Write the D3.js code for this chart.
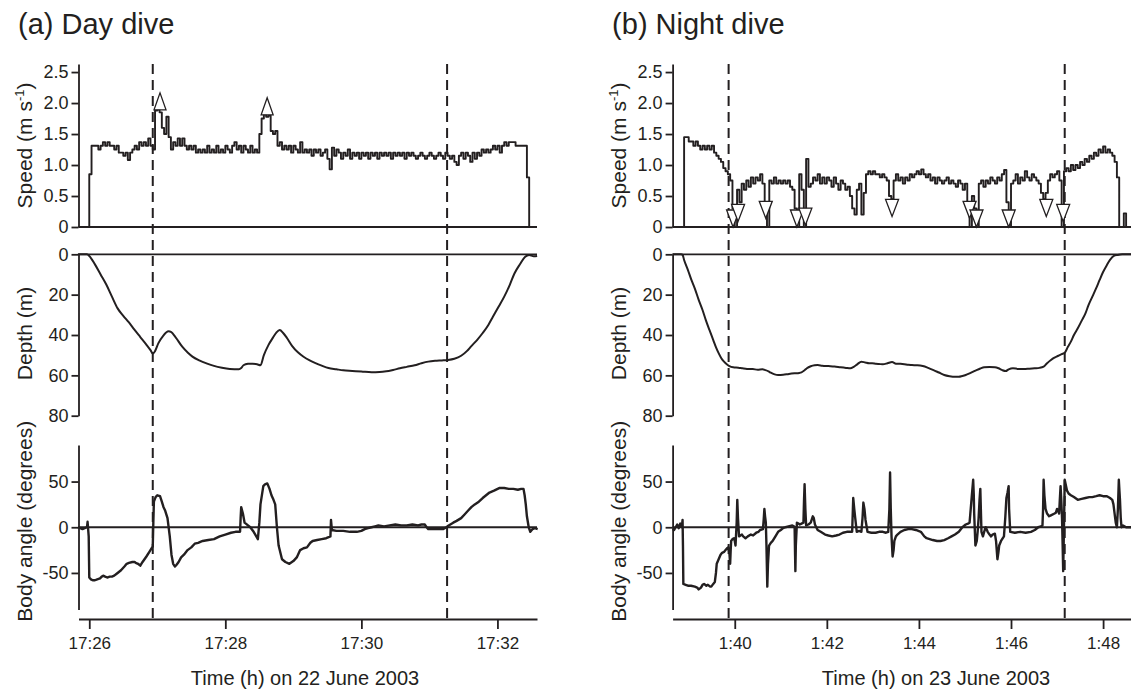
<!DOCTYPE html>
<html>
<head>
<meta charset="utf-8">
<script src="https://cdn.jsdelivr.net/npm/d3@7"></script>
<style>
  body { margin: 0; background: #fff; }
  text { font-family: "Liberation Sans", Arial, Helvetica, sans-serif; fill: #231f20; }
</style>
</head>
<body>
<svg id="chart" width="1131" height="692"></svg>
<script>
// ---- data (seconds are counted from 17:26:00 for the day dive, 1:40:00 for the night dive)
const titles = ["(a) Day dive", "(b) Night dive"];
const xLabels = ["Time (h) on 22 June 2003", "Time (h) on 23 June 2003"];
const tickLabelsA = ["17:26", "17:28", "17:30", "17:32"];
const tickLabelsB = ["1:40", "1:42", "1:44", "1:46", "1:48"];
const speedTicks = [0, 0.5, 1.0, 1.5, 2.0, 2.5];
const depthTicks = [0, 20, 40, 60, 80];
const angleTicks = [-50, 0, 50];
const spanA = [-9.5, 394.9];
const spanB = [-81, 516.5];
const dashedA = [56, 315.6];
const dashedB = [-8, 430];

// speed, one sample every 2 s from t = -2 (day) / every 3 s from t = -72 (night)
const speedAStart = -2, speedAStep = 2;
const speedA = [
  0, 0.85, 1.31, 1.31, 1.31, 1.25, 1.31, 1.37, 1.31, 1.37,
  1.31, 1.31, 1.25, 1.31, 1.2, 1.2, 1.15, 1.2, 1.08, 1.2,
  1.25, 1.31, 1.25, 1.37, 1.31, 1.37, 1.31, 1.43, 1.31, 1.25,
  1.88, 1.9, 1.85, 1.6, 1.5, 1.78, 1.45, 1.25, 1.37, 1.31,
  1.43, 1.31, 1.43, 1.31, 1.25, 1.31, 1.25, 1.31, 1.2, 1.25,
  1.2, 1.25, 1.2, 1.31, 1.2, 1.25, 1.2, 1.31, 1.2, 1.25,
  1.2, 1.31, 1.25, 1.2, 1.31, 1.37, 1.25, 1.31, 1.2, 1.31,
  1.25, 1.2, 1.31, 1.2, 1.25, 1.2, 1.5, 1.75, 1.82, 1.78,
  1.8, 1.55, 1.5, 1.55, 1.31, 1.37, 1.25, 1.31, 1.25, 1.31,
  1.2, 1.31, 1.25, 1.2, 1.37, 1.2, 1.25, 1.2, 1.25, 1.15,
  1.25, 1.2, 1.25, 1.15, 1.2, 1.25, 1.1, 0.93, 1.28, 1.15,
  1.25, 1.2, 1.1, 1.2, 1.15, 1.25, 1.1, 1.2, 1.15, 1.2,
  1.1, 1.2, 1.15, 1.2, 1.1, 1.2, 1.15, 1.2, 1.1, 1.2,
  1.15, 1.2, 1.15, 1.2, 1.1, 1.2, 1.15, 1.2, 1.15, 1.2,
  1.1, 1.2, 1.15, 1.2, 1.15, 1.1, 1.15, 1.2, 1.15, 1.1,
  1.15, 1.2, 1.15, 1.1, 1.15, 1.2, 1.15, 1.1, 1.2, 1.15,
  1.1, 1.15, 1.05, 1.0, 1.15, 1.2, 1.1, 1.2, 1.15, 1.05,
  1.2, 1.1, 1.2, 1.15, 1.25, 1.2, 1.25, 1.2, 1.25, 1.31,
  1.25, 1.31, 1.2, 1.31, 1.37, 1.31, 1.37, 1.37, 1.37, 1.31,
  1.31, 1.31, 1.31, 1.31, 0.8, 0
];
const speedBStart = -72, speedBStep = 3;
const speedB = [
  0, 0, 1.45, 1.45, 1.38, 1.38, 1.31, 1.38, 1.31, 1.25,
  1.31, 1.25, 1.31, 1.25, 1.31, 1.2, 1.15, 1.1, 1.05, 0.95,
  0.9, 0.85, 0.75, 0.3, 0, 0.6, 0.4, 0.7, 0.6, 0.75,
  0.65, 0.8, 0.7, 0.8, 0.75, 0.85, 0.7, 0.4, 0, 0.75,
  0.7, 0.8, 0.7, 0.75, 0.7, 0.75, 0.7, 0.75, 0.65, 0.6,
  0.3, 0, 0.85, 0.6, 0, 1.1, 0.65, 0.7, 0.8, 0.75,
  0.85, 0.7, 0.8, 0.7, 0.8, 0.75, 0.65, 0.8, 0.7, 0.6,
  0.75, 0.7, 0.6, 0.65, 0.5, 0.3, 0.2, 0.6, 0.7, 0.2,
  0.55, 0.85, 0.9, 0.85, 0.9, 0.85, 0.85, 0.8, 0.85, 0.8,
  0.75, 0.5, 0.45, 0.75, 0.85, 0.75, 0.8, 0.7, 0.8, 0.75,
  0.85, 0.8, 0.85, 0.9, 0.85, 0.93, 0.85, 0.8, 0.85, 0.75,
  0.8, 0.7, 0.8, 0.75, 0.7, 0.75, 0.8, 0.7, 0.75, 0.7,
  0.65, 0.75, 0.7, 0.6, 0.7, 0.35, 0, 0.5, 0.3, 0,
  0.7, 0.75, 0.65, 0.75, 0.7, 0.8, 0.75, 0.7, 0.8, 0.75,
  0.85, 0.92, 0.4, 0, 0.7, 0.75, 0.85, 0.7, 0.8, 0.75,
  0.9, 0.8, 0.75, 0.85, 0.8, 0.75, 0.7, 0.55, 0.45, 0.55,
  0.75, 0.85, 0.8, 0.85, 0.9, 0.75, 0, 0.9, 0.95, 0.9,
  1.0, 0.92, 1.0, 0.95, 1.05, 1.0, 1.1, 1.05, 1.15, 1.1,
  1.2, 1.15, 1.25, 1.2, 1.3, 1.2, 1.25, 1.2, 1.15, 1.05,
  0.8, 0, 0, 0.22, 0
];

// arrows: [time s, speed] (day: base of up arrow, night: tip of down arrow)
const arrowsA = [[62.4, 1.89], [156.9, 1.81]];
const arrowsB = [[-2.2, 0], [4.3, 0.09], [40.4, 0.14], [81, 0], [92, 0.03], [205, 0.17],
  [306, 0.14], [315, 0], [357, 0], [406, 0.17], [428, 0.09]];

// depth (m): [time s, depth]
const depthA = [[-10,0],[-2,0],[0,0.8],[5,5],[10,10],[15,15],[20,21],[25,26.8],[30,30.5],[35,33.8],
  [40,37.5],[45,41],[50,44.5],[54,47.5],[56,49.2],[58,48],[61,44],[65,40.5],[70,38.2],[72,38.5],
  [76,41],[82,45.8],[87,48.8],[91,50.7],[97,52.6],[104,54.2],[110,55.3],[117,56.2],[124,56.8],[132,57],
  [134,56.4],[136,55],[140,54.3],[144,54.2],[148,54.5],[151,55],[154,50],[158,45],[162,41.3],[165,38.8],
  [168,37.5],[171,39],[174,41.2],[179,45.5],[184,48.6],[189,50.8],[194,52.5],[199,53.8],[205,55.2],[211,56.4],
  [218,57],[224,57.5],[232,57.8],[240,58.1],[249,58.5],[256,58.4],[262,58],[268,57.3],[274,56.5],[280,55.8],
  [287,55],[293,54],[299,53.2],[305,52.8],[311,52.6],[316,52.4],[322,51.8],[328,50.3],[333,48],[337,45.5],
  [342,42.5],[347,39],[352,35],[356,31],[361,26],[366,21],[371,15],[375,9.5],[380,4.8],[384.5,1.2],
  [388,0.3],[392,1],[395,0.8]];
const depthB = [[-81,0],[-70,0],[-68,0.3],[-66,2.8],[-61,7.8],[-56.5,12.7],[-52,17],[-47,22.6],[-42,27.6],[-37.7,32.6],
  [-33,37.5],[-28,42.5],[-24,46.5],[-21,49],[-17.5,51.5],[-14,53.2],[-10,54.6],[-7,55.4],[-2,56],[4.7,56.2],
  [10,56.5],[16,56.8],[23.5,56.9],[30,57.2],[36,57],[40,57.4],[44,58],[47,58.7],[52,59.5],[56.5,59.8],
  [63,59.7],[70.6,59.3],[78,59],[84,58.8],[87,58.5],[91,57.5],[94,56.5],[99,55.5],[104,55],[108,54.9],
  [114,55.2],[122,55.4],[130,55.6],[138,56],[145,56.3],[150.7,56.5],[155,55.8],[160,54.4],[165,53.2],[170,53.6],
  [175,54],[179,54],[184,54.3],[188,54.4],[193,54.5],[199,54],[205,53.4],[210,54.2],[216,54.3],[221,54.5],
  [226,54.8],[231,54.9],[238,55],[245,55.4],[252,56.3],[259,57.4],[266,58.6],[273,59.8],[280,60.4],[287,60.7],
  [292,60.7],[296.6,60.3],[301,59.8],[306,59],[310,58.3],[315,57.4],[320,56.6],[325,56],[332,55.9],[339,56],
  [343.7,56.5],[348,57.3],[353,57.9],[357,57],[362.5,56.5],[369,56.8],[376.6,56.9],[384,56.7],[390.8,56.5],[397,56.3],
  [402.5,55.7],[407,54],[412,52.4],[416,51.3],[421,50.4],[426,49.5],[430,48.8],[434,46],[438,43.3],[442,40],
  [447,36.7],[452,33],[457,29.3],[461,25.2],[466,21],[471,16.8],[475.5,12.7],[480,8.8],[485,5.3],[489,2.8],
  [494,0.8],[499,0.3],[505,0],[517,0]];

// body angle (degrees): [time s, angle]
const angleA = [[-10,0],[-8,-1],[-6,-2],[-4,-1],[-2,0],[-1.5,6],[-0.5,-10],[0,-55],[1.5,-57],[3,-58],
  [5,-58],[7,-57],[9.5,-56],[11,-54],[12.6,-53],[14,-54],[15.8,-55],[18,-54],[20,-54],[22,-53],
  [25,-50],[28,-47],[31,-43],[33,-40],[35,-39],[38,-38],[40,-38],[41,-39],[43,-40],[45,-42],
  [47,-38],[50.4,-32],[53,-27],[56,-21],[56.5,5],[57,28],[58.5,33],[60,35],[62.4,34],[64,28],
  [65.5,22],[67,18],[69,10],[71,-10],[72.5,-30],[74,-40],[75.6,-43],[77,-41],[78.8,-38],[81,-33],
  [83.5,-30],[86.7,-25],[90,-22],[93,-18],[96,-17],[100,-15],[105,-14],[110,-13],[115,-10],[120,-8],
  [125,-6],[129,-5],[133,-5],[133.5,10],[134,22],[135.5,15],[137,5],[140,2],[142,0],[145,-5],
  [148.7,-13],[150,5],[151,25],[153.5,45],[155,47],[157,48],[159,42],[160.7,35],[162.5,30],[164,25],
  [165.5,0],[167,-20],[170,-35],[173,-38],[176.5,-40],[180,-37],[183,-33],[186,-25],[189,-23],[192,-22],
  [195,-17],[197,-15],[201,-14],[205,-13],[209,-12],[212.7,-10],[213.2,8],[214,-3],[218,-4],[224,-4],
  [230,-5],[236,-5],[240,-4],[243,-2],[246,-1],[249,0],[252,1],[255,2],[260,1],[265,2],
  [270,3],[275,2],[280,2],[285,3],[290,2],[293,3],[296,3],[297.5,0],[299,-2],[305,-2],
  [312,-2],[315,0],[317,2],[321,5],[324,7],[328,10],[331,14],[334,18],[337,22],[340,25],
  [343.6,28],[347,32],[350,35],[353,38],[357,40],[362,43],[366,43],[370,42],[374,42],[378,41],
  [381,42],[383,42],[384,35],[385,25],[386,12],[387.6,0],[389,-5],[391,-2],[393,-1],[395.5,-2]];
const angleB = [[-81,-2],[-79,-3],[-77,0],[-75,3],[-73,-1],[-71,4],[-69,0],[-68,8],[-67.5,-20],[-67,-62],
  [-64,-63],[-61,-64],[-57,-64],[-52,-65],[-49,-66],[-47,-68],[-44,-66],[-42,-63],[-40,-62],[-37,-64],
  [-35,-63],[-32,-65],[-30.6,-65],[-28,-62],[-26,-60],[-24.5,-50],[-23.5,-40],[-21,-35],[-18.5,-30],[-16.5,-28],
  [-14,-27],[-12,-25],[-10,-23],[-8.5,-22],[-7,-28],[-6,-40],[-5.3,-25],[-4.7,-15],[-3,-13],[-1,-12],
  [0,-15],[1,-20],[2.5,5],[3.3,30],[4.2,10],[5.6,-10],[7.5,-9],[9.4,-8],[11,-10],[14,-12],
  [17,-10],[21,-8],[24,-9],[28,-6],[31,-5],[33,-3],[36.7,-2],[37.7,8],[38.6,20],[39.5,12],
  [40.5,5],[41.3,-20],[42.4,-65],[43.3,-40],[44.7,-20],[47,-17],[49.4,-15],[53,-10],[56.5,-5],[60,-3],
  [63,-1],[66,0],[70,1],[75,2],[77,1],[78,0],[78.6,-30],[79,-48],[79.6,-20],[81,5],
  [83,4],[84.7,3],[87,4],[89.5,5],[90.3,30],[91,47],[92,20],[93,2],[96,3],[99,5],
  [101.7,12],[103,10],[104.5,3],[108,-3],[112,-5],[117.7,-8],[122,-9],[127,-10],[132,-9],[136.5,-8],
  [141,-6],[146,-5],[150,-5],[153,-5],[154.4,32],[155.7,20],[157,10],[159,-5],[162,-4],[165,-5],
  [166.5,10],[167.6,27],[169,20],[170.4,8],[173,-5],[178,-6],[183.6,-6],[188,-5],[193,-5],[197,-6],
  [200,-5],[201.5,20],[202.4,60],[203.3,20],[204.3,-10],[205.7,-32],[207,-25],[208,-15],[210,-10],[212,-8],
  [216,-5],[221,-3],[226,-2],[230.7,-2],[236,-3],[242.5,-5],[247,-10],[250,-12],[254,-13],[258,-14],
  [263.6,-15],[268,-15],[273,-14],[278,-12],[282.5,-10],[287,-8],[292,-5],[296.6,0],[301,3],[304,4],
  [306,5],[307,15],[308,25],[309.5,40],[310.7,52],[311.5,35],[312,15],[313.6,-20],[315.4,-15],[316.5,-5],
  [317.8,10],[319,30],[320,42],[320.7,20],[321.5,-5],[323.4,-10],[325,-5],[327,0],[329.6,-5],[332,-8],
  [334,-10],[336,-8],[339,-7],[340.5,-15],[342.3,-35],[343.5,-28],[344.6,-20],[347,-15],[350.8,-10],[352.5,10],
  [354,32],[355.5,38],[356.9,45],[357.5,20],[359,-5],[365,-6],[372,-5],[379,-6],[386,-5],[391,-3],
  [395.5,0],[399,1],[401,2],[401.8,20],[402.5,52],[403.5,35],[405,20],[407,15],[409.6,12],[412,13],
  [416.7,15],[418.5,16],[420,20],[421.5,18],[422.7,15],[423.6,30],[424.6,45],[425.5,30],[426.5,10],[427.3,-20],
  [428,-48],[428.8,-10],[429.4,20],[430,52],[431,48],[433,40],[435,37],[438,35],[442,33],[447,30],
  [452,31],[457,32],[462,33],[466,33],[471,34],[475.5,35],[480,34],[485,34],[489,32],[492,30],
  [493.5,25],[495,15],[496.5,5],[498,0],[499.3,20],[500.5,52],[501.3,40],[502,30],[503,10],[504,0],
  [506,2],[510,0],[517,0]];

// ---- layout
const ink = "#231f20";
const panelWidth = 458.5;
const xAxisY = 619;

const svg = d3.select("#chart");

const ySpeed = d3.scaleLinear().domain([0, 2.63]).range([227, 64]);
const yDepth = d3.scaleLinear().domain([0, 80]).range([254.3, 415.7]);
const yAngle = d3.scaleLinear().domain([-90, 90]).range([609.5, 445]);

const parseTick = (base, label) => {
  const [h, m] = label.split(":").map(Number);
  return new Date(base.getFullYear(), base.getMonth(), base.getDate(), h, m, 0);
};

const styleAxis = (g, fontSize) => {
  g.select(".domain").attr("stroke", ink).attr("stroke-width", 1.8);
  g.selectAll(".tick line").attr("stroke", ink).attr("stroke-width", 1.8);
  g.selectAll(".tick text").style("font-size", fontSize + "px").attr("fill", ink);
  g.attr("font-family", null);
};

const drawPanel = (p) => {
  const at = s => new Date(p.base.getTime() + s * 1000);
  const right = p.left + panelWidth;

  const x = d3.scaleTime()
    .domain([at(p.span[0]), at(p.span[1])])
    .range([p.left, right]);

  const g = svg.append("g");

  // title
  g.append("text")
    .attr("x", p.left - 60.5)
    .attr("y", 34)
    .style("font-size", "29px")
    .text(p.title);

  // event lines
  g.append("g")
    .selectAll("line")
    .data(p.dashed)
    .enter().append("line")
    .attr("x1", d => x(at(d)))
    .attr("x2", d => x(at(d)))
    .attr("y1", 64)
    .attr("y2", xAxisY)
    .attr("stroke", ink)
    .attr("stroke-width", 2)
    .attr("stroke-dasharray", "10,6");

  // zero lines
  [ySpeed(0), yDepth(0), yAngle(0)].forEach(yy => {
    g.append("line")
      .attr("x1", p.left).attr("x2", right)
      .attr("y1", yy).attr("y2", yy)
      .attr("stroke", ink).attr("stroke-width", 1.8);
  });

  // y axes
  const yAxes = [
    [ySpeed, speedTicks, d => d === 0 ? "0" : d.toFixed(1)],
    [yDepth, depthTicks, d => d],
    [yAngle, angleTicks, d => d]
  ];
  yAxes.forEach(([scale, ticks, fmt]) => {
    g.append("g")
      .attr("transform", "translate(" + p.left + ",0)")
      .call(d3.axisLeft(scale).tickValues(ticks).tickFormat(fmt)
        .tickSize(7).tickPadding(3).tickSizeOuter(0))
      .call(a => styleAxis(a, 18));
  });

  // time axis
  g.append("g")
    .attr("transform", "translate(0," + xAxisY + ")")
    .call(d3.axisBottom(x)
      .tickValues(p.ticks.map(t => parseTick(p.base, t)))
      .tickFormat((d, i) => p.ticks[i])
      .tickSize(10).tickPadding(8).tickSizeOuter(0))
    .call(a => styleAxis(a, 17));

  // axis titles
  const ylab = (cy, build) => {
    const t = g.append("text")
      .attr("transform", "translate(" + (p.left - 47) + "," + cy + ") rotate(-90)")
      .attr("text-anchor", "middle")
      .style("font-size", "21px");
    build(t);
  };
  ylab((ySpeed.range()[0] + ySpeed.range()[1]) / 2, t => {
    t.append("tspan").text("Speed (m s");
    t.append("tspan").attr("dy", -8).style("font-size", "13px").text("-1");
    t.append("tspan").attr("dy", 8).text(")");
  });
  ylab((yDepth.range()[0] + yDepth.range()[1]) / 2 - 1.5, t => t.text("Depth (m)"));
  ylab((yAngle.range()[0] + yAngle.range()[1]) / 2 - 6, t => t.text("Body angle (degrees)"));

  g.append("text")
    .attr("x", p.xLabelX)
    .attr("y", 685)
    .attr("text-anchor", "middle")
    .style("font-size", "20px")
    .text(p.xLabel);

  // traces
  const speedPts = p.speed.map((v, i) => [p.speedStart + i * p.speedStep, v]);

  g.append("path")
    .datum(speedPts)
    .attr("fill", "none")
    .attr("stroke", ink)
    .attr("stroke-width", 1.9)
    .attr("stroke-linejoin", "round")
    .attr("d", d3.line().x(d => x(at(d[0]))).y(d => ySpeed(d[1])).curve(d3.curveStepAfter));

  g.append("path")
    .datum(p.depth)
    .attr("fill", "none")
    .attr("stroke", ink)
    .attr("stroke-width", 2)
    .attr("stroke-linejoin", "round")
    .attr("d", d3.line().x(d => x(at(d[0]))).y(d => yDepth(d[1])).curve(d3.curveMonotoneX));

  g.append("path")
    .datum(p.angle)
    .attr("fill", "none")
    .attr("stroke", ink)
    .attr("stroke-width", 2.4)
    .attr("stroke-linejoin", "round")
    .attr("d", d3.line().x(d => x(at(d[0]))).y(d => yAngle(d[1])));

  // arrows
  const tri = p.arrowUp
    ? "M-6,0L6,0L0,-17Z"
    : "M0,0L-6.5,-17L6.5,-17Z";
  g.append("g")
    .selectAll("path")
    .data(p.arrows)
    .enter().append("path")
    .attr("transform", d => "translate(" + x(at(d[0])) + "," + ySpeed(d[1]) + ")")
    .attr("d", tri)
    .attr("fill", "#fff")
    .attr("stroke", ink)
    .attr("stroke-width", 1.3)
    .attr("stroke-linejoin", "miter");
};

drawPanel({
  title: titles[0], xLabel: xLabels[0], xLabelX: 305,
  base: new Date(2003, 5, 22, 17, 26, 0), left: 78.5, span: spanA,
  ticks: tickLabelsA, dashed: dashedA,
  speed: speedA, speedStart: speedAStart, speedStep: speedAStep,
  depth: depthA, angle: angleA, arrows: arrowsA, arrowUp: true
});

drawPanel({
  title: titles[1], xLabel: xLabels[1], xLabelX: 936,
  base: new Date(2003, 5, 23, 1, 40, 0), left: 672.6, span: spanB,
  ticks: tickLabelsB, dashed: dashedB,
  speed: speedB, speedStart: speedBStart, speedStep: speedBStep,
  depth: depthB, angle: angleB, arrows: arrowsB, arrowUp: false
});
</script>
</body>
</html>
